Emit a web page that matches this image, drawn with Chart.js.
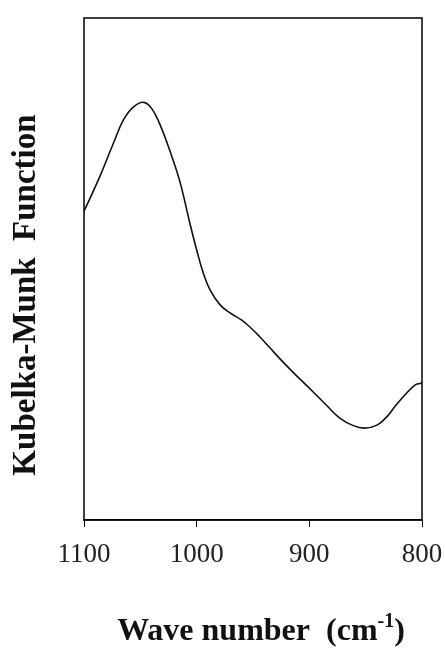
<!DOCTYPE html>
<html>
<head>
<meta charset="utf-8">
<script src="https://cdn.jsdelivr.net/npm/chart.js@4/dist/chart.umd.min.js"></script>
<style>
  html, body { margin: 0; padding: 0; background: #fff; }
  #wrap { width: 445px; height: 648px; position: relative; }
</style>
</head>
<body>
<div id="wrap"><canvas id="chart"></canvas></div>
<script>
// wave numbers (cm-1) and Kubelka-Munk values (arbitrary units)
const waveNumbers = [1100, 1086, 1074, 1065, 1056, 1047, 1040, 1033, 1024, 1015, 1006, 1000, 994, 988, 979, 970, 960, 953, 944, 935, 926, 917, 908, 897, 885, 873, 861, 851, 840, 831, 823, 814, 806, 802, 800];
const kmValues    = [61.5, 68.4, 75.0, 79.7, 82.3, 83.2, 82.0, 79.0, 73.7, 67.5, 59.1, 53.8, 49.1, 45.8, 42.8, 41.2, 39.8, 38.5, 36.5, 34.3, 32.1, 30.0, 28.0, 25.6, 22.9, 20.3, 18.8, 18.3, 18.9, 20.6, 22.9, 25.2, 26.9, 27.2, 27.3];
const xTicks = [1100, 1000, 900, 800];
const xTitle = 'Wave number  (cm';
const yTitle = 'Kubelka-Munk  Function';

const serif = "'Liberation Serif', 'Times New Roman', serif";

// frame + axis titles
const framePlugin = {
  id: 'frame',
  afterDraw(chart) {
    const { ctx, chartArea: a } = chart;
    ctx.save();
    ctx.strokeStyle = '#000';
    ctx.lineWidth = 1.5;
    ctx.strokeRect(a.left, a.top, a.right - a.left, a.bottom - a.top);

    ctx.fillStyle = '#111';
    ctx.textBaseline = 'alphabetic';
    // x title with superscript -1
    const big = 'bold 32px ' + serif, small = 'bold 20px ' + serif;
    ctx.font = big;
    const w1 = ctx.measureText(xTitle).width;
    const w3 = ctx.measureText(')').width;
    ctx.font = small;
    const w2 = ctx.measureText('-1').width;
    let x = 261 - (w1 + w2 + w3) / 2;
    const base = 640;
    ctx.font = big; ctx.textAlign = 'left';
    ctx.fillText(xTitle, x, base); x += w1;
    ctx.font = small;
    ctx.fillText('-1', x, base - 13); x += w2;
    ctx.font = big;
    ctx.fillText(')', x, base);

    // y title rotated
    ctx.translate(26, 295);
    ctx.rotate(-Math.PI / 2);
    ctx.textAlign = 'center';
    ctx.textBaseline = 'middle';
    ctx.font = 'bold 33px ' + serif;
    ctx.fillText(yTitle, 0, 0);
    ctx.restore();
  }
};

const ctx = document.getElementById('chart').getContext('2d');
new Chart(ctx, {
  type: 'line',
  data: {
    datasets: [{
      data: waveNumbers.map((w, i) => ({ x: w, y: kmValues[i] })),
      borderColor: '#111',
      borderWidth: 1.6,
      pointRadius: 0,
      fill: false,
      tension: 0.4
    }]
  },
  options: {
    responsive: true,
    maintainAspectRatio: false,
    animation: false,
    layout: { padding: { left: 84, top: 18, right: 23, bottom: 0 } },
    plugins: { legend: { display: false }, tooltip: { enabled: false } },
    scales: {
      x: {
        type: 'linear',
        reverse: true,
        min: 800,
        max: 1100,
        afterBuildTicks(scale) { scale.ticks = xTicks.map(v => ({ value: v })); },
        afterFit(scale) {
          scale.height = 128;
          scale.paddingLeft = 0;
          scale.paddingRight = 0;
        },
        ticks: {
          color: '#222',
          font: { family: serif, size: 27 },
          padding: 12,
          maxRotation: 0,
          callback: v => String(v)
        },
        grid: { drawOnChartArea: false, drawTicks: true, tickLength: 7, color: '#000', lineWidth: 1 },
        border: { display: true, color: '#000', width: 1.5 }
      },
      y: {
        display: false,
        min: 0,
        max: 100
      }
    }
  },
  plugins: [framePlugin]
});
</script>
</body>
</html>
